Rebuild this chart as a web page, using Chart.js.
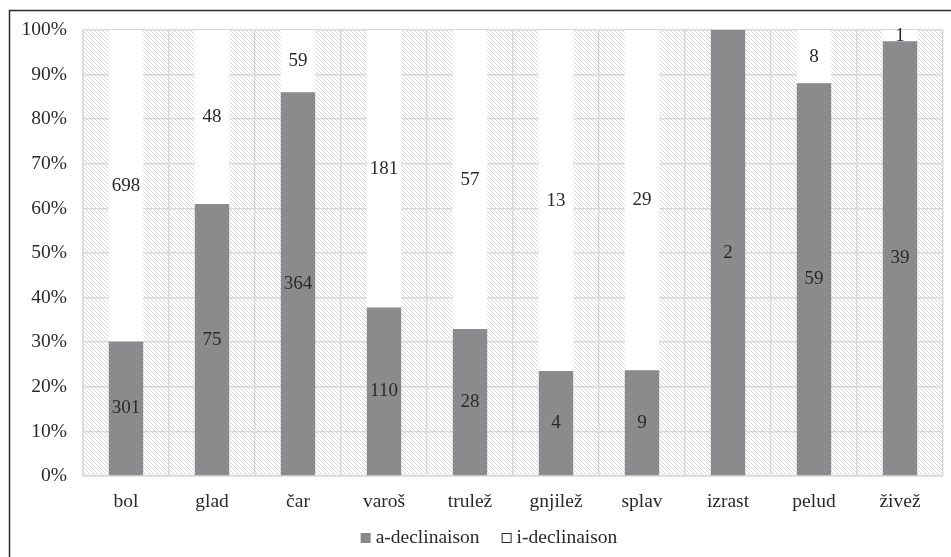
<!DOCTYPE html>
<html>
<head>
<meta charset="utf-8">
<script src="https://cdn.jsdelivr.net/npm/chart.js@4/dist/chart.umd.min.js"></script>
<style>
  html, body { margin: 0; padding: 0; background: #fff; }
  #wrap { width: 951px; height: 557px; position: relative; }
</style>
</head>
<body>
<div id="wrap"><canvas id="myChart"></canvas></div>
<script>
const words = ["bol", "glad", "čar", "varoš", "trulež", "gnjilež", "splav", "izrast", "pelud", "živež"];
const aDecl = [301, 75, 364, 110, 28, 4, 9, 2, 59, 39];
const iDecl = [698, 48, 59, 181, 57, 13, 29, 0, 8, 1];

const FONT = "'Liberation Serif', 'Times New Roman', serif";
const TEXT = "#2a2a2a";
const BAR_A = "#8b8b8e";

// share of each declension per word, in percent
const totals = words.map((w, i) => aDecl[i] + iDecl[i]);
const aPct = aDecl.map((v, i) => (v / totals[i]) * 100);
const iPct = iDecl.map((v, i) => (v / totals[i]) * 100);

// fine diagonal hatching for the plot background
function hatchPattern(ctx) {
  const tile = document.createElement("canvas");
  tile.width = 4;
  tile.height = 4;
  const t = tile.getContext("2d");
  t.fillStyle = "#ffffff";
  t.fillRect(0, 0, 4, 4);
  t.fillStyle = "#d6d6d6";
  for (let i = 0; i < 4; i++) t.fillRect(i, i, 1, 1);
  return ctx.createPattern(tile, "repeat");
}

const backdrop = {
  id: "backdrop",
  beforeDraw(chart) {
    const { ctx, chartArea: a } = chart;
    ctx.save();
    ctx.fillStyle = hatchPattern(ctx);
    ctx.fillRect(a.left, a.top, a.right - a.left, a.bottom - a.top);
    // frame around the figure (left and top edges)
    ctx.strokeStyle = "#2b2b2b";
    ctx.lineWidth = 1.5;
    ctx.beginPath();
    ctx.moveTo(9.5, chart.height);
    ctx.lineTo(9.5, 10.5);
    ctx.lineTo(chart.width, 10.5);
    ctx.stroke();
    ctx.restore();
  }
};

const countLabels = {
  id: "countLabels",
  afterDatasetsDraw(chart) {
    const { ctx } = chart;
    const counts = [aDecl, iDecl];
    ctx.save();
    ctx.font = "19px " + FONT;
    ctx.fillStyle = TEXT;
    ctx.textAlign = "center";
    ctx.textBaseline = "middle";
    chart.data.datasets.forEach((ds, d) => {
      chart.getDatasetMeta(d).data.forEach((bar, i) => {
        const n = counts[d][i];
        if (!n) return;
        ctx.fillText(String(n), bar.x, (bar.y + bar.base) / 2);
      });
    });
    ctx.restore();
  }
};

// legend row under the axis labels
const bottomLegend = {
  id: "bottomLegend",
  afterDraw(chart) {
    const { ctx } = chart;
    const items = chart.data.datasets.map((ds) => ds.label);
    const box = 10, gap = 5, spacing = 22;
    ctx.save();
    ctx.font = "19.5px " + FONT;
    ctx.textBaseline = "middle";
    const widths = items.map((t) => box + gap + ctx.measureText(t).width);
    const total = widths.reduce((s, w) => s + w, 0) + spacing * (items.length - 1);
    let x = (chart.width + 27) / 2 - total / 2;
    const y = 538;
    items.forEach((t, i) => {
      if (i === 0) {
        ctx.fillStyle = BAR_A;
        ctx.fillRect(x, y - box / 2, box, box);
      } else {
        ctx.fillStyle = "#ffffff";
        ctx.fillRect(x, y - box / 2, box, box);
        ctx.strokeStyle = "#2b2b2b";
        ctx.lineWidth = 1;
        ctx.strokeRect(x + 0.5, y - box / 2 + 0.5, box - 1, box - 1);
      }
      ctx.fillStyle = TEXT;
      ctx.textAlign = "left";
      ctx.fillText(t, x + box + gap, y);
      x += widths[i] + spacing;
    });
    ctx.restore();
  }
};

new Chart(document.getElementById("myChart"), {
  type: "bar",
  data: {
    labels: words,
    datasets: [
      {
        label: "a-declinaison",
        data: aPct,
        backgroundColor: BAR_A,
        borderWidth: 0,
        categoryPercentage: 1,
        barPercentage: 0.4
      },
      {
        label: "i-declinaison",
        data: iPct,
        backgroundColor: "#ffffff",
        borderWidth: 0,
        categoryPercentage: 1,
        barPercentage: 0.4
      }
    ]
  },
  options: {
    responsive: true,
    maintainAspectRatio: false,
    animation: false,
    layout: { padding: { left: 12, right: 8, top: 30, bottom: 38 } },
    plugins: {
      tooltip: { enabled: false },
      legend: { display: false }
    },
    scales: {
      x: {
        stacked: true,
        grid: { offset: true, color: "#d9d9d9", lineWidth: 1.5, drawTicks: false },
        border: { color: "#d9d9d9", width: 1.5 },
        ticks: { font: { family: FONT, size: 19.5 }, color: TEXT, padding: 14, maxRotation: 0 },
        afterFit(scale) { scale.height = 43; }
      },
      y: {
        stacked: true,
        min: 0,
        max: 100,
        grid: { color: "#d9d9d9", lineWidth: 1.5, drawTicks: false },
        border: { color: "#d9d9d9", width: 1.5 },
        ticks: {
          stepSize: 10,
          font: { family: FONT, size: 19.5 },
          color: TEXT,
          padding: 16,
          callback: (v) => v + "%"
        },
        afterFit(scale) { scale.width = 71; }
      }
    }
  },
  plugins: [backdrop, countLabels, bottomLegend]
});
</script>
</body>
</html>
